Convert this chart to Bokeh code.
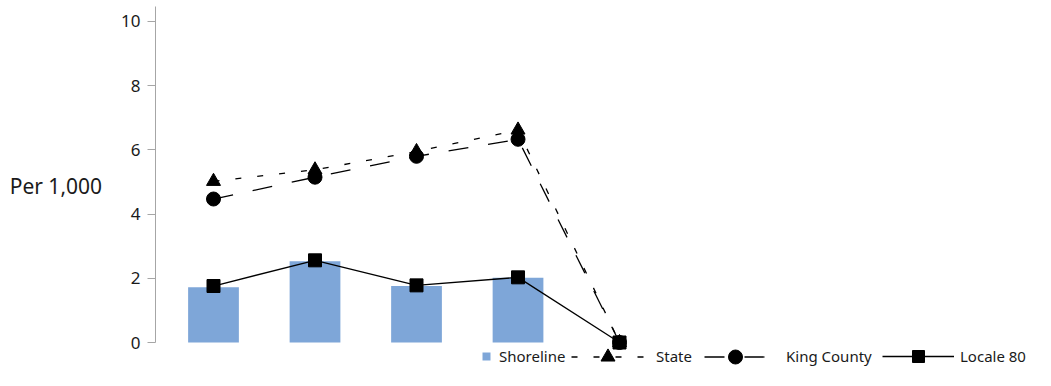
from bokeh.plotting import figure
from bokeh.models import Range1d, FixedTicker, Legend, LegendItem, ColumnDataSource
from bokeh.embed import file_html
from bokeh.resources import INLINE

# ---- data ----
periods = [1, 2, 3, 4, 5]
shoreline = [1.72, 2.53, 1.76, 2.02, 0.0]
state = [5.02, 5.38, 5.95, 6.62, 0.0]
king_county = [4.47, 5.15, 5.80, 6.33, 0.0]
locale_80 = [1.76, 2.56, 1.78, 2.03, 0.0]
y_ticks = [0, 2, 4, 6, 8, 10]

src = ColumnDataSource(dict(x=periods, shoreline=shoreline, state=state,
                            king=king_county, locale=locale_80))

FONT = "Noto Sans"

p = figure(width=1035, height=370, output_backend="svg", toolbar_location=None,
           x_range=Range1d(0.4286, 9.098), y_range=Range1d(-0.872, 10.654),
           x_axis_location=None, min_border_left=155, min_border_right=0,
           min_border_top=0, min_border_bottom=0)
p.outline_line_color = None
p.xgrid.visible = False
p.ygrid.visible = False

ax = p.yaxis[0]
ax.bounds = (0, 10.47)
ax.ticker = FixedTicker(ticks=y_ticks)
ax.minor_tick_line_color = None
ax.major_tick_out = 8
ax.major_tick_in = 0
ax.axis_line_color = "#a6a6a6"
ax.major_tick_line_color = "#a6a6a6"
ax.major_label_text_font = FONT
ax.major_label_text_font_size = "17px"
ax.major_label_text_color = "#1a1a1a"
ax.major_label_standoff = 7
ax.axis_label = "Per 1,000"
ax.axis_label_orientation = "horizontal"
ax.axis_label_text_font = FONT
ax.axis_label_text_font_size = "21px"
ax.axis_label_text_font_style = "normal"
ax.axis_label_text_color = "#1a1a1a"
ax.axis_label_standoff = 16

bars = p.vbar(x="x", top="shoreline", width=0.5, source=src,
              fill_color="#7ea6d8", line_color=None)

st_line = p.line("x", "state", source=src, line_color="black", line_width=1.3,
                 line_dash="6 16")
st_pts = p.scatter("x", "state", source=src, marker="triangle", size=14,
                   fill_color="black", line_color="black")

kc_line = p.line("x", "king", source=src, line_color="black", line_width=1.3,
                 line_dash="20 20")
kc_pts = p.scatter("x", "king", source=src, marker="circle", size=14,
                   fill_color="black", line_color="black")

lc_line = p.line("x", "locale", source=src, line_color="black", line_width=1.3)
lc_pts = p.scatter("x", "locale", source=src, marker="square", size=13,
                   fill_color="black", line_color="black")

CENTER = 14  # legend centre, px above the bottom edge
SHIFT = -14  # horizontal shift of the legend row

def make_legend(label, renderers, x, gw, gh, standoff, lh=None):
    lh = gh if lh is None else lh
    box = max(gh, lh)
    leg = Legend(items=[LegendItem(label=label, renderers=renderers)],
                 location=(x + SHIFT, CENTER - box / 2),
                 glyph_width=gw, glyph_height=gh, label_height=lh,
                 label_standoff=standoff, padding=0, margin=0,
                 border_line_color=None, background_fill_alpha=0,
                 label_text_font=FONT, label_text_font_size="15px",
                 label_text_color="#1a1a1a")
    p.add_layout(leg)

make_legend("Shoreline", [bars], 340, 10, 10, 8, lh=20)
make_legend("State", [st_line, st_pts], 430, 73, 35, 12)
make_legend("King County", [kc_line, kc_pts], 563, 62, 35, 20)
make_legend("Locale 80", [lc_line, lc_pts], 741, 72, 30, 6)

open("out.html", "w").write(file_html(p, INLINE))
